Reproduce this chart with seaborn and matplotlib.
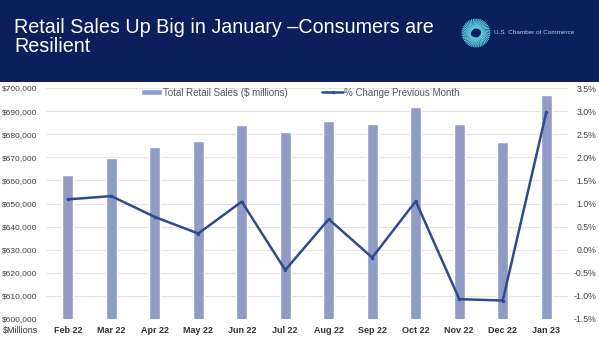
import numpy as np
import pandas as pd
import matplotlib
matplotlib.use("Agg")
import matplotlib.pyplot as plt
import matplotlib.patches as mpatches
import seaborn as sns
from matplotlib.ticker import FuncFormatter, MultipleLocator

months = ["Feb 22", "Mar 22", "Apr 22", "May 22", "Jun 22", "Jul 22",
          "Aug 22", "Sep 22", "Oct 22", "Nov 22", "Dec 22", "Jan 23"]
sales = [662300, 669700, 674300, 676900, 683800, 680800,
         685600, 684300, 691600, 684300, 676500, 696800]
pct_change = [1.09, 1.16, 0.71, 0.35, 1.04, -0.44,
              0.66, -0.17, 1.05, -1.07, -1.10, 2.97]

title = "Retail Sales Up Big in January \u2013Consumers are\nResilient"
bar_label = "Total Retail Sales ($ millions)"
line_label = "% Change Previous Month"

sns.set_theme(style="white")
plt.rcParams["font.family"] = ["Liberation Sans", "DejaVu Sans"]

W, H = 599, 338
fig = plt.figure(figsize=(W / 100, H / 100), dpi=100)
fig.patch.set_facecolor("white")

# header band
hdr = fig.add_axes([0, 1 - 82 / H, 1, 82 / H])
hdr.set_xlim(0, W)
hdr.set_ylim(82, 0)
hdr.axis("off")
hdr.add_patch(mpatches.Rectangle((0, 0), W, 82, color="#0B1F5C", zorder=0))
hdr.text(14, 18, title, color="white", fontsize=14.2, va="top", ha="left",
         linespacing=1.0)
# logo swirl
cx, cy = 476, 33
for a in np.linspace(0, 2 * np.pi, 48, endpoint=False):
    r0, r1 = 5, 14
    xs = [cx + r0 * np.cos(a), cx + r1 * np.cos(a + 0.6)]
    ys = [cy + r0 * np.sin(a), cy + r1 * np.sin(a + 0.6)]
    hdr.plot(xs, ys, color="#5CC8DC", lw=0.8, solid_capstyle="round")
hdr.add_patch(mpatches.Ellipse((cx, cy), 9, 6, angle=-20, color="#0B1F5C", zorder=5))
hdr.text(494, 33, "U.S. Chamber of Commerce", color="#9FD6E4", fontsize=4.6,
         va="center", ha="left")

# main plot
left, right, top, bottom = 46, 568, 88, 319
ax = fig.add_axes([left / W, 1 - bottom / H, (right - left) / W, (bottom - top) / H])
df = pd.DataFrame({"Month": months, "Sales": sales, "Pct": pct_change})
sns.barplot(data=df, x="Month", y="Sales", color="#8E9CC6", width=0.25,
            saturation=1, ax=ax, label=bar_label, zorder=2)
ax.set_ylim(600000, 700000)
ax.set_xlim(-0.5, len(months) - 0.5)
ax.yaxis.set_major_locator(MultipleLocator(10000))
ax.yaxis.set_major_formatter(FuncFormatter(lambda v, p: f"${v:,.0f}"))
ax.grid(axis="y", color="#E3E3E3", lw=0.8, zorder=0)
ax.set_axisbelow(True)
for s in ax.spines.values():
    s.set_visible(False)
ax.set_xlabel("")
ax.set_ylabel("")
ax.tick_params(axis="y", labelsize=6, colors="#404040", length=0, pad=6)
ax.tick_params(axis="x", labelsize=6.5, colors="#333333", length=0, pad=5)
for t in ax.get_xticklabels():
    t.set_fontweight("bold")
fig.text(3 / W, 1 - 330 / H, "$Millions", ha="left", va="center",
         fontsize=6.5, color="#333333")

ax2 = ax.twinx()
sns.lineplot(x=np.arange(len(months)), y=df["Pct"], ax=ax2, color="#2F4A8F",
             lw=1.8, marker="o", markersize=2.5, markeredgewidth=0,
             label=line_label, legend=False, zorder=3)
ax2.set_ylim(-1.5, 3.5)
ax2.yaxis.set_major_locator(MultipleLocator(0.5))
ax2.yaxis.set_major_formatter(FuncFormatter(lambda v, p: f"{v:.1f}%"))
ax2.tick_params(axis="y", labelsize=6.3, colors="#404040", length=0, pad=20.5)
for t in ax2.get_yticklabels():
    t.set_horizontalalignment("right")
ax2.set_ylabel("")
for s in ax2.spines.values():
    s.set_visible(False)
ax2.grid(False)

h1, l1 = ax.get_legend_handles_labels()
h2, l2 = ax2.get_legend_handles_labels()
leg = ax.legend(h1 + h2, l1 + l2, loc="upper center", bbox_to_anchor=(0.487, 1.04),
                ncol=2, frameon=False, fontsize=7, handlelength=2.2,
                handleheight=0.6, columnspacing=3.5, handletextpad=0.1)
for t in leg.get_texts():
    t.set_color("#555555")
if ax2.get_legend() is not None:
    ax2.get_legend().remove()

fig.savefig("out.png", dpi=100)
